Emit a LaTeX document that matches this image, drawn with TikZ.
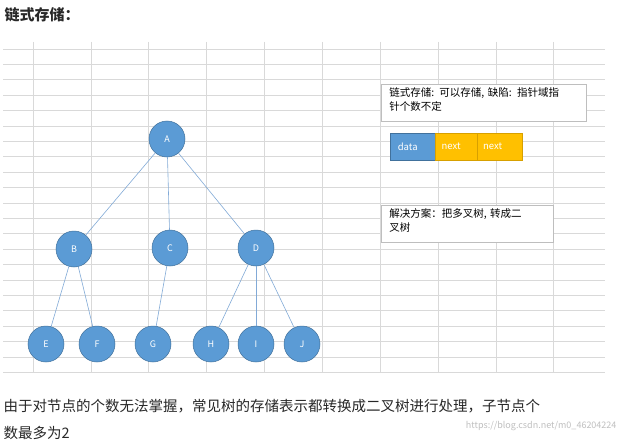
\documentclass[tikz,border=0pt]{standalone}
\usepackage{fontspec}
\setmainfont{Noto Sans CJK SC}
\begin{document}
\begin{tikzpicture}[x=1pt,y=-1pt,
  tn/.style={circle,fill={rgb,255:red,91;green,155;blue,213},draw={rgb,255:red,65;green,113;blue,156},line width=0.5pt,minimum size=36pt,inner sep=0pt,font=\fontsize{9}{10}\selectfont,text=white},
  ed/.style={draw={rgb,255:red,130;green,170;blue,215},line width=0.6pt},
  note/.style={draw={rgb,255:red,190;green,190;blue,190},fill=white,line width=0.6pt,anchor=north west,inner xsep=8pt,inner ysep=3pt,align=left,font=\fontsize{10.5}{14}\selectfont},
  cell/.style={minimum height=27pt,inner sep=0pt,font=\fontsize{9.5}{10}\selectfont,text=white,anchor=north west}]
\useasboundingbox (0,0) rectangle (626,444);
\fill[white] (0,0) rectangle (626,444);
\node[anchor=west,font=\bfseries\fontsize{15}{17}\selectfont,text={rgb,255:red,40;green,40;blue,40}] (title) at (1,15) {链式存储：};
% grid
\foreach \yy in {0,...,21} \draw[black!15,line width=0.7pt] (3,49+15.4*\yy) -- (605,49+15.4*\yy);
\foreach \xx in {33,91,148,206,264,322,380,438,496,553} \draw[black!15,line width=0.7pt] (\xx,42) -- (\xx,372);
% tree
\node[tn] (A) at (167,139) {A};
\node[tn] (B) at (74,249) {B};
\node[tn] (C) at (170,248) {C};
\node[tn] (D) at (256,248) {D};
\node[tn] (E) at (46,344) {E};
\node[tn] (F) at (97,344) {F};
\node[tn] (G) at (153,344) {G};
\node[tn] (H) at (211,344) {H};
\node[tn] (I) at (256,344) {I};
\node[tn] (J) at (302,344) {J};
\foreach \a/\b in {A/B,A/C,A/D,B/E,B/F,C/G,D/H,D/I,D/J} \draw[ed] (\a) -- (\b);
% notes
\node[note,text width=189pt,text depth=22pt] (n1) at (381,84) {链式存储: 可以存储, 缺陷: 指针域指\\针个数不定};
\node[cell,fill={rgb,255:red,91;green,155;blue,213},draw={rgb,255:red,65;green,113;blue,156},minimum width=45pt] (d) at (390,133) {\hspace*{-10pt}data};
\node[cell,fill={rgb,255:red,255;green,192;blue,0},draw={rgb,255:red,215;green,160;blue,0},minimum width=42pt] (n) at (435,133) {\hspace*{-10pt}next};
\node[cell,fill={rgb,255:red,255;green,192;blue,0},draw={rgb,255:red,215;green,160;blue,0},minimum width=45pt] (m) at (477,133) {\hspace*{-14pt}next};
\node[note,text width=156pt,text depth=22pt] (n2) at (381,205) {解决方案：把多叉树, 转成二\\叉树};
% bottom text
\node[anchor=west,font=\fontsize{14.5}{18}\selectfont,text={rgb,255:red,40;green,40;blue,40}] (t1) at (0,406) {由于对节点的个数无法掌握，常见树的存储表示都转换成二叉树进行处理，子节点个};
\node[anchor=west,font=\fontsize{14.5}{18}\selectfont,text={rgb,255:red,40;green,40;blue,40}] (t2) at (0,433) {数最多为2};
\node[anchor=east,font=\fontsize{9}{10}\selectfont,text=black!25] (wm) at (620,426) {https://blog.csdn.net/m0\_46204224};
\end{tikzpicture}
\end{document}
